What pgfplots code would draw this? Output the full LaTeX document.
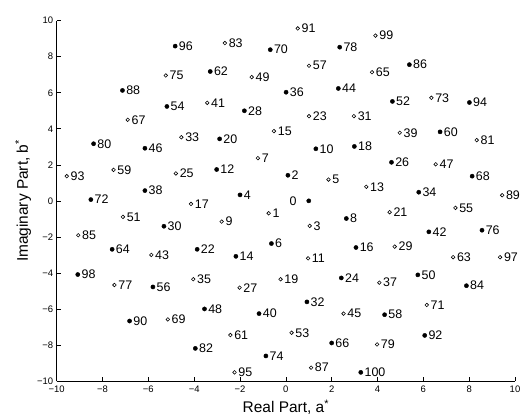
\documentclass[border=0pt]{standalone}
\usepackage{fontspec}
\setmainfont{Liberation Sans}
\usepackage{pgfplots}
\pgfplotsset{compat=1.18}

% even indices: filled markers (0 is drawn on its own, label on the left)
\pgfplotstableread{
x y n
0.09 1.42 2
-2.00 0.33 4
-0.63 -2.37 6
2.64 -0.98 8
1.31 2.89 10
-3.02 1.74 12
-2.18 -3.08 14
3.06 -2.59 16
2.99 3.02 18
-2.89 3.44 20
-3.87 -2.69 22
2.42 -4.28 24
4.61 2.14 26
-1.81 5.00 28
-5.32 -1.41 30
0.92 -5.61 32
5.80 0.48 34
0.01 6.03 36
-6.15 0.57 38
-1.17 -6.26 40
6.24 -1.72 42
2.29 6.24 44
-6.15 2.92 46
-3.55 -6.00 48
5.76 -4.11 50
4.65 5.52 52
-5.19 5.24 54
-5.80 -4.78 56
4.31 -6.32 58
6.73 3.83 60
-3.30 7.18 62
-7.58 -2.69 64
2.00 -7.89 66
8.13 1.37 68
-0.68 8.39 70
-8.51 0.07 72
-0.87 -8.61 74
8.56 -1.63 76
2.35 8.53 78
-8.39 3.17 80
-3.95 -8.19 82
7.88 -4.71 84
5.39 7.56 86
-7.13 6.13 88
-6.82 -6.67 90
6.06 -7.47 92
8.01 5.46 94
-4.83 8.59 96
-9.08 -4.09 98
3.27 -9.52 100
}\evenpts

% odd indices: open markers
\pgfplotstableread{
x y n
-0.75 -0.69 1
1.04 -1.39 3
1.86 1.18 5
-1.22 2.37 7
-2.80 -1.15 9
0.97 -3.19 11
3.51 0.78 13
-0.52 3.87 15
-4.14 -0.17 17
-0.23 -4.35 19
4.53 -0.63 21
1.01 4.70 23
-4.80 1.52 25
-2.02 -4.82 27
4.75 -2.54 29
2.97 4.70 31
-4.56 3.53 33
-4.04 -4.35 35
4.08 -4.54 37
4.97 3.78 39
-3.43 5.44 41
-5.87 -3.00 43
2.52 -6.26 45
6.54 2.03 47
-1.49 6.87 49
-7.11 -0.89 51
0.25 -7.32 53
7.40 -0.39 55
1.01 7.50 57
-7.52 1.72 59
-2.42 -7.45 61
7.30 -3.13 63
3.76 7.14 65
-6.90 4.50 67
-5.15 -6.58 69
6.15 -5.78 71
6.35 5.72 73
-5.24 6.96 75
-7.48 -4.67 77
3.98 -7.97 79
8.33 3.37 81
-2.66 8.76 83
-9.06 -1.91 85
1.10 -9.26 87
9.44 0.31 89
0.52 9.57 91
-9.56 1.37 93
-2.24 -9.52 95
9.35 -3.13 97
3.91 9.17 99
}\oddpts

\begin{document}
\begin{tikzpicture}
\path[use as bounding box] (0,0) rectangle (526bp,416bp);
\begin{axis}[
  at={(56.7bp,35bp)}, anchor=south west,
  scale only axis,
  width=458.3bp, height=360.3bp,
  xmin=-10, xmax=10, ymin=-10, ymax=10,
  axis x line*=bottom, axis y line*=left,
  axis line style={-, line width=0.6bp},
  tick align=inside,
  major tick length=4bp,
  tick style={line width=0.6bp, black},
  xtick={-10,-8,...,10}, ytick={-10,-8,...,10},
  xticklabels={−10,−8,−6,−4,−2,0,2,4,6,8,10},
  yticklabels={−10,−8,−6,−4,−2,0,2,4,6,8,10},
  tick label style={font=\fontsize{9.5}{10}\selectfont},
  xticklabel style={yshift=-1.5bp},
  xlabel={Real Part, a\textsuperscript{*}},
  ylabel={Imaginary Part, b\textsuperscript{*}},
  label style={font=\fontsize{15.5}{17}\selectfont},
  xlabel style={at={(axis description cs:0.5,-0.087)}, anchor=base},
  ylabel style={at={(axis description cs:-0.063,0.5)}, anchor=base},
  clip=false,
  point meta=explicit symbolic,
  nodes near coords,
  every node near coord/.append style={font=\fontsize{12.5}{13}\selectfont, inner sep=0pt},
]
\addplot[only marks, mark=*, mark size=2.1bp, black,
  nodes near coords style={anchor=west, xshift=3.6bp}]
  table[x=x, y=y, meta=n] {\evenpts};
\addplot[only marks, mark=o, mark size=1.8bp, black, mark options={line width=0.6bp},
  nodes near coords style={anchor=west, xshift=3.6bp}]
  table[x=x, y=y, meta=n] {\oddpts};
\addplot[only marks, mark=*, mark size=2.1bp, black,
  nodes near coords style={anchor=east, xshift=-12bp}]
  table[x=x, y=y, meta=n] {
x y n
1.00 0.00 0
};
\end{axis}
\end{tikzpicture}
\end{document}
